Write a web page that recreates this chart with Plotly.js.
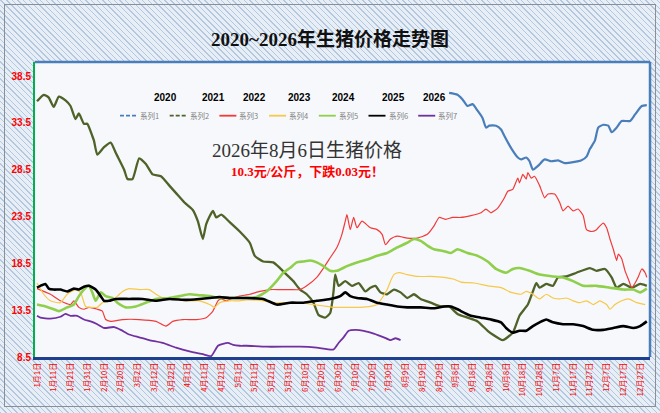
<!DOCTYPE html>
<html>
<head>
<meta charset="utf-8">
<script src="https://cdn.plot.ly/plotly-3.0.1.min.js"></script>
<style>
html, body { margin: 0; padding: 0; }
body {
    width: 660px; height: 413px; overflow: hidden; position: relative;
    background: repeating-linear-gradient(45deg, #b3c7de 0 1px, #e8eef6 1px 4px);
}
#frame { position: absolute; left: 4px; top: 4px; width: 650px; height: 401px; border: 1px solid #8a8f96; }
#chart { position: absolute; left: 0; top: 0; width: 660px; height: 413px; }
</style>
</head>
<body>
<div id="frame"></div>
<div id="chart"></div>
<script>
// x tick labels, one every 10 days
const tickLabels = ['1月1日', '1月11日', '1月21日', '1月31日', '2月10日', '2月20日', '3月2日', '3月12日',
    '3月22日', '4月1日', '4月11日', '4月21日', '5月1日', '5月11日', '5月21日', '5月31日', '6月10日',
    '6月20日', '6月30日', '7月10日', '7月20日', '7月30日', '8月9日', '8月19日', '8月29日', '9月8日',
    '9月18日', '9月28日', '10月8日', '10月18日', '10月28日', '11月7日', '11月17日', '11月27日',
    '12月7日', '12月17日', '12月27日'];
const yearLabels = ['2020', '2021', '2022', '2023', '2024', '2025', '2026'];
const seriesNames = ['系列1', '系列2', '系列3', '系列4', '系列5', '系列6', '系列7'];

// day of year (0 = 1月1日) and price (元/公斤)
const days1 = [246, 251, 254, 257, 260, 263, 266, 268, 270, 274, 277, 279, 283, 287, 289, 292, 294, 296, 299,
    303, 307, 311, 315, 320, 325, 328, 330, 333, 335, 338, 341, 343, 346, 349, 354, 357, 361, 364];
const vals1 = [36.7, 36.5, 36.0, 35.3, 35.5, 34.8, 34.0, 33.0, 33.2, 33.2, 32.8, 32.1, 30.8, 29.8, 29.6, 29.8,
    29.4, 28.5, 28.9, 29.6, 29.4, 29.5, 29.2, 29.3, 29.5, 29.9, 30.7, 31.6, 33.0, 33.3, 33.2, 32.5, 33.0, 33.7,
    33.7, 34.4, 35.3, 35.4];

const days2 = [0, 4, 7, 10, 13, 17, 20, 23, 25, 28, 30, 33, 34, 36, 40, 44, 47, 49, 52, 54, 57, 61, 65, 69, 74,
    79, 83, 88, 93, 96, 99, 101, 105, 107, 110, 115, 121, 127, 130, 135, 141, 145, 149, 153, 157, 161, 165, 168,
    172, 175, 177, 178, 180, 184, 188, 192, 196, 199, 202, 205, 209, 213, 217, 221, 225, 229, 235, 241, 246, 251,
    257, 263, 269, 272, 278, 284, 288, 293, 296, 298, 300, 304, 308, 311, 316, 322, 330, 334, 339, 343, 346, 350,
    355, 360, 364];
const vals2 = [35.8, 36.5, 36.2, 35.2, 36.3, 35.9, 35.3, 33.9, 34.5, 33.4, 33.4, 32.1, 31.6, 30.1, 30.9, 31.4,
    30.3, 29.6, 28.5, 27.5, 27.5, 29.7, 29.1, 28.0, 27.8, 26.8, 26.0, 25.0, 24.2, 23.0, 21.1, 22.7, 24.1, 23.4,
    23.7, 22.9, 21.9, 20.7, 19.3, 18.7, 18.6, 18.0, 17.3, 16.6, 15.7, 15.2, 14.3, 13.0, 12.7, 13.2, 15.5, 17.3,
    16.1, 16.6, 16.1, 16.4, 15.5, 15.9, 16.1, 15.4, 15.2, 15.7, 15.4, 14.8, 15.2, 14.7, 14.3, 13.9, 13.9, 13.1,
    12.7, 12.3, 11.3, 10.9, 10.3, 11.1, 12.9, 14.1, 15.5, 16.4, 15.9, 16.3, 16.1, 17.0, 17.1, 17.5, 18.0, 17.7,
    17.9, 17.0, 15.9, 16.3, 15.9, 16.3, 16.1];

const days3 = [0, 8, 14, 20, 22, 25, 28, 31, 36, 39, 41, 44, 51, 61, 71, 77, 81, 87, 95, 101, 105, 108, 110, 113,
    117, 121, 127, 133, 139, 145, 151, 157, 161, 167, 171, 175, 179, 182, 184, 185, 187, 189, 191, 194, 199, 203,
    206, 208, 211, 215, 221, 227, 233, 237, 240, 244, 248, 253, 259, 265, 268, 271, 275, 279, 281, 284, 287, 288,
    290, 292, 293, 295, 297, 300, 303, 305, 309, 312, 314, 317, 320, 323, 326, 328, 331, 334, 336, 338, 340, 342,
    344, 346, 347, 349, 351, 353, 355, 357, 359, 361, 363, 364];
const vals3 = [15.8, 15.2, 14.5, 14.1, 14.5, 13.8, 13.6, 13.8, 13.6, 13.4, 12.5, 12.3, 12.5, 12.5, 12.3, 11.8,
    12.3, 12.5, 12.5, 12.7, 13.4, 14.5, 14.7, 14.5, 14.8, 15.0, 15.2, 15.5, 15.7, 15.7, 15.7, 15.7, 16.1, 17.0,
    18.0, 19.1, 20.2, 21.6, 23.0, 23.7, 22.1, 23.4, 22.3, 23.0, 22.3, 22.1, 21.6, 20.5, 21.1, 21.4, 21.2, 21.2,
    21.6, 22.5, 23.4, 23.2, 23.4, 23.4, 23.6, 23.9, 24.3, 23.9, 24.4, 25.5, 26.2, 26.4, 27.6, 27.1, 28.0, 27.5,
    28.2, 27.6, 27.8, 26.8, 25.5, 25.9, 25.9, 25.0, 24.1, 24.6, 24.1, 24.3, 23.6, 22.1, 21.9, 22.1, 22.5, 22.8,
    22.3, 21.1, 20.0, 18.8, 19.5, 19.0, 17.7, 16.8, 15.9, 16.4, 17.1, 17.9, 17.5, 17.0];

const days4 = [0, 4, 8, 14, 18, 23, 26, 29, 33, 36, 39, 44, 48, 51, 55, 61, 67, 71, 75, 81, 89, 97, 103, 106, 109,
    115, 121, 125, 135, 141, 149, 157, 165, 173, 177, 181, 187, 193, 199, 203, 206, 209, 211, 213, 216, 221, 227,
    235, 243, 249, 253, 261, 269, 277, 283, 289, 292, 296, 300, 304, 308, 312, 316, 320, 324, 328, 332, 336, 340,
    342, 345, 349, 353, 358, 363];
const vals4 = [16.4, 15.2, 14.5, 14.3, 15.2, 15.7, 15.4, 13.9, 13.8, 13.8, 14.3, 14.5, 15.0, 15.5, 15.8, 15.7,
    15.7, 15.2, 14.8, 14.8, 14.5, 14.5, 14.1, 13.8, 14.3, 14.5, 14.5, 14.6, 14.5, 14.3, 14.3, 14.3, 14.1, 13.9,
    13.8, 13.8, 13.8, 13.8, 13.9, 14.1, 14.8, 15.7, 16.6, 17.3, 17.5, 17.3, 17.1, 17.1, 17.0, 16.8, 16.5, 16.4,
    16.1, 15.9, 15.4, 15.2, 15.5, 15.2, 14.7, 15.2, 14.8, 14.7, 14.8, 14.5, 14.3, 14.5, 14.1, 14.5, 14.1, 13.6,
    14.1, 14.5, 14.7, 14.3, 14.1];

const days5 = [0, 5, 10, 13, 18, 22, 25, 28, 31, 33, 35, 38, 41, 45, 48, 53, 59, 65, 71, 79, 85, 91, 97, 103, 109,
    115, 123, 131, 137, 143, 147, 151, 155, 159, 163, 167, 171, 175, 179, 185, 191, 197, 203, 209, 215, 221, 225,
    229, 233, 237, 243, 247, 251, 257, 263, 269, 274, 280, 284, 288, 294, 300, 308, 314, 320, 326, 334, 342, 350,
    356, 360, 364];
const vals5 = [14.1, 13.9, 13.6, 13.4, 13.8, 14.1, 15.0, 15.7, 16.1, 15.4, 14.5, 15.4, 15.0, 14.8, 14.3, 13.8,
    13.9, 14.3, 14.7, 14.8, 15.0, 15.2, 15.1, 15.0, 14.8, 14.8, 14.8, 14.9, 15.5, 16.6, 17.5, 18.0, 18.6, 18.7,
    18.8, 18.6, 18.2, 17.7, 17.7, 18.2, 18.6, 18.9, 19.3, 19.6, 20.2, 20.7, 21.1, 20.9, 20.4, 20.0, 19.8, 19.6,
    20.0, 19.6, 19.3, 18.7, 17.9, 17.5, 17.9, 18.0, 17.7, 17.3, 17.1, 17.0, 16.6, 16.1, 16.1, 15.9, 15.7, 15.7,
    15.4, 15.8];

const days6 = [0, 2, 5, 7, 10, 14, 18, 22, 25, 28, 31, 35, 38, 40, 43, 47, 55, 63, 71, 79, 89, 97, 103, 109, 115,
    121, 125, 135, 143, 151, 159, 167, 175, 181, 184, 187, 191, 197, 203, 209, 215, 221, 229, 237, 243, 247, 251,
    253, 259, 265, 271, 277, 280, 284, 288, 292, 296, 300, 304, 308, 314, 320, 326, 332, 338, 344, 350, 356, 360,
    364];
const vals6 = [15.9, 16.1, 16.3, 15.8, 15.7, 15.7, 15.5, 15.8, 15.7, 16.0, 16.1, 15.7, 15.0, 14.5, 14.5, 14.7,
    14.7, 14.7, 14.5, 14.7, 14.6, 14.7, 14.8, 14.9, 14.8, 14.8, 14.8, 14.7, 14.1, 14.3, 14.3, 14.5, 14.7, 15.0,
    15.4, 15.0, 14.8, 14.7, 14.3, 14.1, 13.9, 13.8, 13.8, 13.7, 13.9, 13.9, 13.6, 13.4, 12.9, 12.7, 12.5, 12.2,
    11.6, 11.1, 11.3, 11.3, 11.8, 12.2, 12.5, 12.2, 12.0, 12.0, 11.8, 11.4, 11.4, 11.6, 11.8, 11.6, 11.8, 12.3];

const days7 = [0, 2, 8, 14, 17, 20, 24, 28, 32, 36, 40, 46, 50, 55, 61, 67, 75, 83, 91, 99, 104, 108, 111, 114,
    117, 121, 125, 137, 157, 167, 177, 180, 183, 186, 190, 195, 201, 207, 211, 214, 217];
const vals7 = [12.9, 12.7, 12.6, 12.8, 13.1, 12.9, 12.9, 12.5, 12.3, 12.0, 11.6, 11.7, 11.4, 10.9, 10.6, 10.3,
    10.0, 9.5, 9.1, 8.8, 8.6, 9.7, 9.9, 10.0, 9.8, 9.7, 9.7, 9.6, 9.6, 9.5, 9.3, 10.0, 10.6, 11.3, 11.4, 11.3,
    11.0, 10.6, 10.3, 10.5, 10.3];

const allDays = [days1, days2, days3, days4, days5, days6, days7];
const allVals = [vals1, vals2, vals3, vals4, vals5, vals6, vals7];
const colors = ['#4a7ebb', '#4f6228', '#f23a3a', '#f7c948', '#8fcf4c', '#000000', '#7030a0'];
const widths = [2.2, 2.3, 1.2, 1.2, 2.6, 2.6, 1.8];
const legendDash = ['4px,2px', '4px,2px', 'solid', 'solid', 'solid', 'solid', 'solid'];

const data = allDays.map((d, i) => ({
    x: d,
    y: allVals[i],
    type: 'scatter',
    mode: 'lines',
    name: seriesNames[i],
    line: {color: colors[i], width: widths[i], shape: 'spline', smoothing: 0.5},
    hoverinfo: 'skip'
}));

// plot area spans x 35..650 px, y 62..357 px
const px = v => (v - 35) / 615;
const py = v => (357 - v) / 295;

const yearX = [151.5, 200, 254, 299, 343, 393, 448];
const annotations = yearLabels.map((t, i) => ({
    text: '<b>' + t + '</b>',
    xref: 'paper', yref: 'paper',
    x: px(yearX[i]), y: py(89.5),
    showarrow: false,
    font: {family: 'Liberation Sans, Arial', size: 10, color: '#000'}
}));
annotations.push({
    text: '2026年8月6日生猪价格',
    xref: 'paper', yref: 'paper', x: px(307), y: py(150),
    yanchor: 'middle',
    showarrow: false,
    font: {family: 'Liberation Serif, Noto Sans CJK SC', size: 19, color: '#333'}
});
annotations.push({
    text: '<b>10.3元/公斤，下跌0.03元！</b>',
    xref: 'paper', yref: 'paper', x: px(307), y: py(171),
    yanchor: 'middle',
    showarrow: false,
    font: {family: 'Liberation Serif, Noto Sans CJK SC', size: 13, color: '#ff0000'}
});

// legend drawn by hand: short line sample + name, ~50 px per entry
const shapes = [
    {type: 'line', xref: 'paper', yref: 'paper', x0: 0, x1: 1, y0: 1, y1: 1, line: {color: '#4a7ebb', width: 2.5}},
    {type: 'line', xref: 'paper', yref: 'paper', x0: 1, x1: 1, y0: 0, y1: 1, line: {color: '#4a7ebb', width: 2.5}}
];
seriesNames.forEach((n, i) => {
    const x0 = 120 + i * 49.7;
    shapes.push({
        type: 'line', xref: 'paper', yref: 'paper',
        x0: px(x0), x1: px(x0 + 17), y0: py(115.7), y1: py(115.7),
        line: {color: colors[i], width: 1.8, dash: legendDash[i]}
    });
    annotations.push({
        text: n,
        xref: 'paper', yref: 'paper', x: px(x0 + 18), y: py(115.7),
        xanchor: 'left', yanchor: 'middle',
        showarrow: false,
        font: {family: 'Noto Sans CJK SC', size: 7.5, color: '#7f7f7f'}
    });
});

const layout = {
    width: 660,
    height: 413,
    margin: {l: 35, r: 10, t: 62, b: 56, pad: 0},
    paper_bgcolor: 'rgba(0,0,0,0)',
    plot_bgcolor: '#f6f8fb',
    showlegend: false,
    title: {
        text: '<b>2020~2026年生猪价格走势图</b>',
        x: 0.5, xref: 'container',
        y: 0.905, yref: 'container', yanchor: 'middle',
        font: {family: 'Liberation Serif, Noto Sans CJK SC', size: 19, color: '#111'}
    },
    xaxis: {
        range: [-1.2, 365.9],
        tickvals: tickLabels.map((t, i) => i * 10),
        ticktext: tickLabels,
        tickangle: -90,
        tickfont: {family: 'Noto Sans CJK SC', size: 8, color: '#ff0000'},
        showgrid: false,
        zeroline: false,
        showline: true,
        linecolor: '#1f3f8f',
        linewidth: 2.5,
        ticks: ''
    },
    yaxis: {
        range: [8.5, 40],
        tick0: 8.5,
        dtick: 5,
        tickformat: '.1f',
        tickfont: {family: 'Liberation Sans, Arial', size: 10, color: '#ff0000', weight: 'bold'},
        showgrid: false,
        zeroline: false,
        showline: true,
        linecolor: '#00b050',
        linewidth: 2,
        ticks: ''
    },
    shapes: shapes,
    annotations: annotations
};

Plotly.newPlot('chart', data, layout, {displayModeBar: false, staticPlot: true});
</script>
</body>
</html>
